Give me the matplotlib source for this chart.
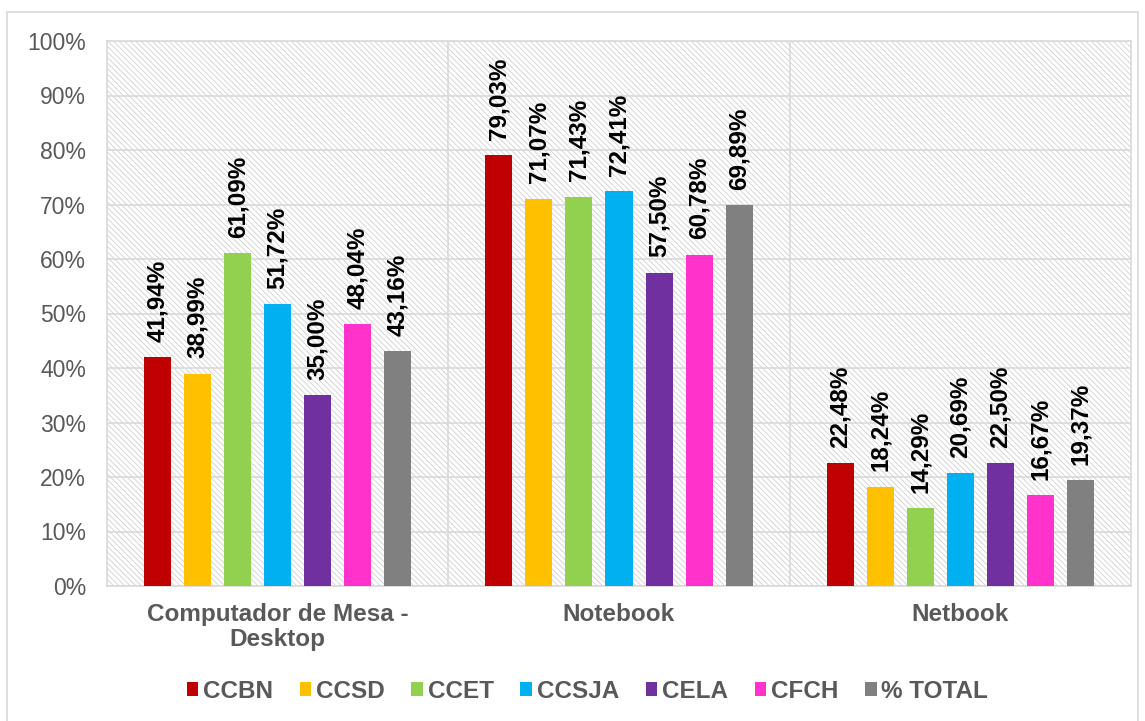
import matplotlib.pyplot as plt
import numpy as np
from matplotlib.patches import Rectangle

plt.rcParams['font.family'] = ['Liberation Sans', 'DejaVu Sans']
plt.rcParams['hatch.color'] = '#d0d0d0'
plt.rcParams['hatch.linewidth'] = 0.6

# Data
categories = ["Computador de Mesa -\nDesktop", "Notebook", "Netbook"]
series = ["CCBN", "CCSD", "CCET", "CCSJA", "CELA", "CFCH", "% TOTAL"]
ccbn = [41.94, 79.03, 22.48]
ccsd = [38.99, 71.07, 18.24]
ccet = [61.09, 71.43, 14.29]
ccsja = [51.72, 72.41, 20.69]
cela = [35.00, 57.50, 22.50]
cfch = [48.04, 60.78, 16.67]
total = [43.16, 69.89, 19.37]
colors = ["#c00000", "#ffc000", "#92d050", "#00b0f0", "#7030a0", "#ff33cc", "#808080"]

values = [ccbn, ccsd, ccet, ccsja, cela, cfch, total]

fig = plt.figure(figsize=(11.45, 7.21), dpi=100)
ax = fig.add_axes([107 / 1145, 1 - 586 / 721, (1131 - 107) / 1145, (586 - 41) / 721])

# outer chart border
fig.patches.append(Rectangle((7 / 1145, -0.01), (1138 - 7) / 1145, 1 - 12 / 721 + 0.01,
                             transform=fig.transFigure, fill=False,
                             edgecolor='#d9d9d9', linewidth=1.2))

# hatched plot background
ax.add_patch(Rectangle((0, 0), 1, 1, transform=ax.transAxes, facecolor='white',
                       hatch='\\\\\\\\\\\\', edgecolor='#d0d0d0', linewidth=0, zorder=0))

x = np.arange(len(categories))
slot = 40 / 341.3
width = 27 / 341.3
for i, (name, vals, c) in enumerate(zip(series, values, colors)):
    pos = x + (i - 3) * slot
    ax.bar(pos, vals, width, color=c, label=name, zorder=3)
    for px, v in zip(pos, vals):
        ax.annotate(f"{v:.2f}%".replace('.', ','), (px, v), xytext=(0, 11),
                    textcoords='offset points', rotation=90, ha='center', va='bottom',
                    fontsize=17.5, fontweight='bold', color='black', zorder=4)

ax.set_xlim(-0.5, 2.5)
ax.set_ylim(0, 100)
ax.set_yticks(np.arange(0, 101, 10))
ax.set_yticklabels([f"{t}%" for t in range(0, 101, 10)], fontsize=16.5, color='#595959')
ax.set_xticks(x)
ax.set_xticklabels(categories, fontsize=17.5, fontweight='bold', color='#595959',
                   linespacing=1.15)
ax.tick_params(axis='y', length=0, pad=15)
ax.tick_params(axis='x', length=0, pad=12)

ax.grid(axis='y', color='#d9d9d9', linewidth=1.2, zorder=1)
for b in [0.5, 1.5]:
    ax.axvline(b, color='#d9d9d9', linewidth=1.2, zorder=1)
for s in ax.spines.values():
    s.set_color('#d9d9d9')
    s.set_linewidth(1.2)

fig.legend(loc='center', bbox_to_anchor=(0.513, 1 - 691 / 721), ncol=7, frameon=False,
           prop={'size': 17.5, 'weight': 'bold'}, handlelength=0.47, handleheight=0.47,
           handletextpad=0.2, columnspacing=1.1, labelcolor='#595959')

fig.savefig('out.png', dpi=100)
